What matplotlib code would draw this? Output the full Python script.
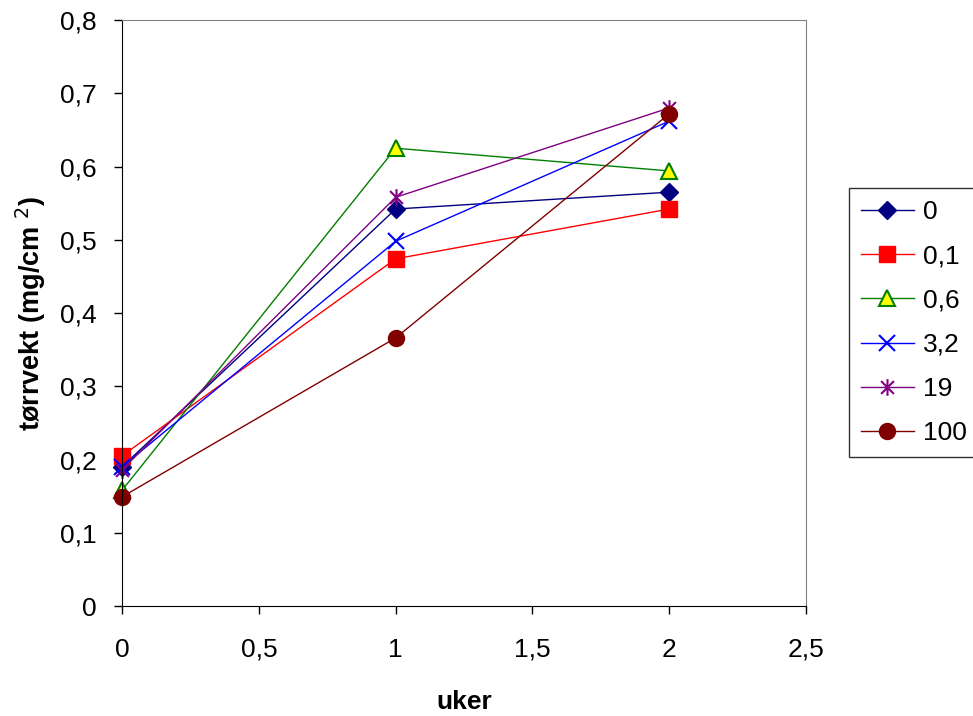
import numpy as np
import matplotlib.pyplot as plt
from matplotlib.path import Path
from matplotlib.ticker import FuncFormatter

plt.rcParams['font.family'] = ['Liberation Sans', 'DejaVu Sans']

uker = [0, 1, 2]
serie_0 = [0.19, 0.542, 0.565]
serie_01 = [0.205, 0.474, 0.542]
serie_06 = [0.158, 0.625, 0.594]
serie_32 = [0.19, 0.498, 0.662]
serie_19 = [0.186, 0.558, 0.68]
serie_100 = [0.149, 0.366, 0.672]
navn = ["0", "0,1", "0,6", "3,2", "19", "100"]

# stjerne-markør: kryss med loddrett strek
stjerne = Path([(-1, -1), (1, 1), (-1, 1), (1, -1), (0, -1.3), (0, 1.3)],
               [Path.MOVETO, Path.LINETO, Path.MOVETO, Path.LINETO, Path.MOVETO, Path.LINETO])

stil = [
    dict(color="#000080", marker="D", mfc="#000080", mec="#000080", ms=9),
    dict(color="#FF0000", marker="s", mfc="#FF0000", mec="#FF0000", ms=11),
    dict(color="#008000", marker="^", mfc="#FFFF00", mec="#008000", ms=12, mew=1.5),
    dict(color="#0000FF", marker="x", mec="#0000FF", ms=12, mew=1.5),
    dict(color="#800080", marker=stjerne, mec="#800080", mfc="none", ms=12, mew=1.5),
    dict(color="#800000", marker="o", mfc="#800000", mec="#800000", ms=11.5),
]

fig = plt.figure(figsize=(9.73, 7.16), dpi=100)
ax = fig.add_axes([0.1254, 0.1536, 0.703, 0.8184])

for y, lab, s in zip([serie_0, serie_01, serie_06, serie_32, serie_19, serie_100], navn, stil):
    ax.plot(uker, y, lw=1, label=lab, clip_on=False, **s)

ax.set_xlim(0, 2.5)
ax.set_ylim(0, 0.8)
ax.set_xticks(np.arange(0, 2.51, 0.5))
ax.set_yticks(np.arange(0, 0.81, 0.1))
komma = FuncFormatter(lambda v, p: ("%g" % round(v, 2)).replace(".", ","))
ax.xaxis.set_major_formatter(komma)
ax.yaxis.set_major_formatter(komma)
ax.tick_params(direction="out", length=6, width=1, labelsize=19)
ax.tick_params(axis="x", pad=17)
ax.tick_params(axis="y", pad=12)

for side in ["top", "right"]:
    ax.spines[side].set_color("#808080")
for side in ["left", "bottom"]:
    ax.spines[side].set_color("black")

ax.set_xlabel("uker", fontsize=19, fontweight="bold", labelpad=20)
ax.set_ylabel("tørrvekt (mg/cm $^{2}$)", fontsize=19.5, fontweight="bold", labelpad=9)

leg = ax.legend(loc="upper left", bbox_to_anchor=(0.8726, 0.7374), bbox_transform=fig.transFigure,
                fontsize=19, frameon=True, fancybox=False, edgecolor="black",
                handlelength=2.0, handletextpad=0.35, labelspacing=0.77, borderpad=0.45,
                borderaxespad=0)
leg.get_frame().set_linewidth(1)

fig.savefig("out.png", dpi=100)
